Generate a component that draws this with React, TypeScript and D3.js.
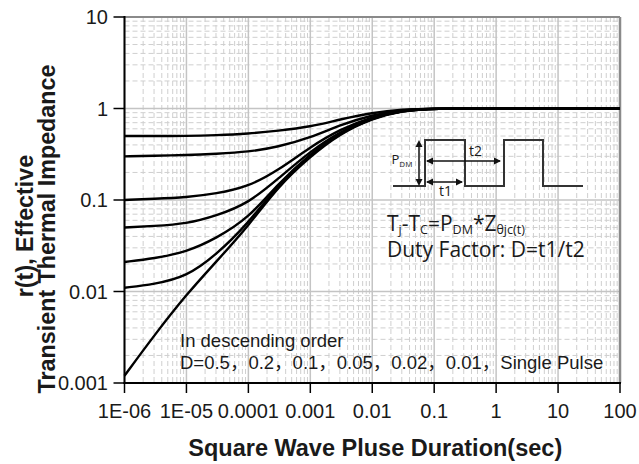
import React from "react";
import * as d3 from "d3";

const xValues = [1e-6, 3e-6, 1e-5, 3e-5, 1e-4, 3e-4, 1e-3, 3e-3, 1e-2, 3e-2, 0.1, 1, 10, 100];
const seriesD05 = [0.5, 0.5, 0.5, 0.51, 0.53, 0.57, 0.63, 0.76, 0.9, 0.98, 1, 1, 1, 1];
const seriesD02 = [0.3, 0.305, 0.31, 0.32, 0.335, 0.38, 0.48, 0.66, 0.85, 0.97, 1, 1, 1, 1];
const seriesD01 = [0.1, 0.103, 0.107, 0.117, 0.14, 0.21, 0.38, 0.59, 0.82, 0.96, 1, 1, 1, 1];
const seriesD005 = [0.05, 0.052, 0.055, 0.067, 0.092, 0.17, 0.34, 0.56, 0.8, 0.95, 1, 1, 1, 1];
const seriesD002 = [0.021, 0.023, 0.027, 0.038, 0.063, 0.15, 0.32, 0.55, 0.79, 0.95, 1, 1, 1, 1];
const seriesD001 = [0.011, 0.012, 0.0145, 0.025, 0.056, 0.145, 0.31, 0.54, 0.79, 0.95, 1, 1, 1, 1];
const seriesSingle = [0.0012, 0.0033, 0.0093, 0.021, 0.052, 0.14, 0.3, 0.53, 0.78, 0.95, 1, 1, 1, 1];
const allSeries = [seriesD05, seriesD02, seriesD01, seriesD005, seriesD002, seriesD001, seriesSingle];

const xTickValues = [1e-6, 1e-5, 1e-4, 1e-3, 1e-2, 0.1, 1, 10, 100];
const xTickLabels = ["1E-06", "1E-05", "0.0001", "0.001", "0.01", "0.1", "1", "10", "100"];
const yTickValues = [0.001, 0.01, 0.1, 1, 10];
const yTickLabels = ["0.001", "0.01", "0.1", "1", "10"];

const xTitle = "Square Wave Pluse Duration(sec)";
const yTitle1 = "r(t), Effective";
const yTitle2 = "Transient Thermal Impedance";
const legendLine1 = "In descending order";
const legendLine2 = "D=0.5\uFF0C0.2\uFF0C0.1\uFF0C0.05\uFF0C0.02\uFF0C0.01\uFF0CSingle Pulse";

const W = 639, H = 464;
const L = 124.5, R = 620, T = 17, B = 383;

export default function App() {
  const x = d3.scaleLog().domain([1e-6, 100]).range([L, R]);
  const y = d3.scaleLog().domain([0.001, 10]).range([B, T]);

  const minorX: number[] = [];
  for (let e = -6; e < 2; e++) for (let m = 2; m <= 9; m++) minorX.push(m * Math.pow(10, e));
  const minorY: number[] = [];
  for (let e = -3; e < 1; e++) for (let m = 2; m <= 9; m++) minorY.push(m * Math.pow(10, e));

  const line = d3
    .line<[number, number]>()
    .x((d) => x(d[0]))
    .y((d) => y(d[1]))
    .curve(d3.curveBasis);

  const font = "'Liberation Sans', Arial, 'Noto Sans CJK SC', sans-serif";
  const insetFont = "'Open Sans', 'Noto Sans', sans-serif";
  const txt = "#1a1a1a";

  // inset geometry
  const ix0 = 393, ixR1 = 425, ixF1 = 465, ixR2 = 504, ixF2 = 543, ixEnd = 583;
  const iyLow = 186, iyHigh = 140;
  const wave = `M${ix0},${iyLow}H${ixR1}V${iyHigh}H${ixF1}V${iyLow}H${ixR2}V${iyHigh}H${ixF2}V${iyLow}H${ixEnd}`;

  const arrowHead = (px: number, py: number, dir: "l" | "r" | "u" | "d") => {
    const s = 7, w = 3.5;
    let p = "";
    if (dir === "l") p = `M${px},${py}L${px + s},${py - w}L${px + s},${py + w}Z`;
    if (dir === "r") p = `M${px},${py}L${px - s},${py - w}L${px - s},${py + w}Z`;
    if (dir === "u") p = `M${px},${py}L${px - w},${py + s}L${px + w},${py + s}Z`;
    if (dir === "d") p = `M${px},${py}L${px - w},${py - s}L${px + w},${py - s}Z`;
    return <path d={p} fill="#111" />;
  };

  return (
    <svg width={W} height={H} style={{ position: "absolute", left: 0, top: 0, background: "#fff" }}>
      <rect x={0} y={0} width={W} height={H} fill="#fff" />
      {/* minor grid */}
      <g stroke="#cfcfcf" strokeWidth={1} strokeDasharray="5,3">
        {minorX.map((v, i) => (
          <line key={"mx" + i} x1={x(v)} x2={x(v)} y1={T} y2={B} />
        ))}
        {minorY.map((v, i) => (
          <line key={"my" + i} x1={L} x2={R} y1={y(v)} y2={y(v)} />
        ))}
      </g>
      {/* major grid */}
      <g stroke="#c4c4c4" strokeWidth={1.5}>
        {xTickValues.map((v, i) => (
          <line key={"gx" + i} x1={x(v)} x2={x(v)} y1={T} y2={B} />
        ))}
        {yTickValues.map((v, i) => (
          <line key={"gy" + i} x1={L} x2={R} y1={y(v)} y2={y(v)} />
        ))}
      </g>
      {/* top/right frame */}
      <line x1={L} x2={R} y1={T} y2={T} stroke="#8a8a8a" strokeWidth={2} />
      <line x1={R} x2={R} y1={T} y2={B} stroke="#8a8a8a" strokeWidth={2.5} />

      {/* curves */}
      <g fill="none" stroke="#000" strokeWidth={2.4}>
        {allSeries.map((s, i) => (
          <path key={"s" + i} d={line(xValues.map((v, j) => [v, s[j]] as [number, number])) || ""} />
        ))}
      </g>

      {/* axes */}
      <line x1={L} x2={L} y1={T - 1} y2={B + 1} stroke="#000" strokeWidth={2} />
      <line x1={L - 1} x2={R + 1} y1={B} y2={B} stroke="#000" strokeWidth={2} />
      {xTickValues.map((v, i) => (
        <g key={"xt" + i}>
          <line x1={x(v)} x2={x(v)} y1={B} y2={B + 10} stroke="#000" strokeWidth={1.5} />
          <text x={x(v)} y={418} textAnchor="middle" fontFamily={font} fontSize={20} fill={txt}>
            {xTickLabels[i]}
          </text>
        </g>
      ))}
      {yTickValues.map((v, i) => (
        <g key={"yt" + i}>
          <line x1={L - 11} x2={L} y1={y(v)} y2={y(v)} stroke="#000" strokeWidth={1.5} />
          <text x={108} y={y(v) + 7} textAnchor="end" fontFamily={font} fontSize={20} fill={txt}>
            {yTickLabels[i]}
          </text>
        </g>
      ))}

      {/* titles */}
      <text x={(L + R) / 2 + 3} y={456} textAnchor="middle" fontFamily={font} fontWeight="bold" fontSize={23.5} fill={txt}>
        {xTitle}
      </text>
      <text transform="translate(33,226) rotate(-90)" textAnchor="middle" fontFamily={font} fontWeight="bold" fontSize={23.3} fill={txt}>
        {yTitle1}
      </text>
      <text transform="translate(55,229) rotate(-90)" textAnchor="middle" fontFamily={font} fontWeight="bold" fontSize={23.3} fill={txt}>
        {yTitle2}
      </text>

      {/* legend text */}
      <text x={180} y={346.5} fontFamily={font} fontSize={18.5} fill={txt}>
        {legendLine1}
      </text>
      <text x={180} y={369} fontFamily={font} fontSize={18.5} fill={txt}>
        {legendLine2}
      </text>

      {/* inset */}
      <path d={wave} fill="none" stroke="#333" strokeWidth={2} />
      <line x1={419} x2={419} y1={iyHigh + 2} y2={iyLow - 2} stroke="#111" strokeWidth={1.5} />
      {arrowHead(419, iyHigh, "u")}
      {arrowHead(419, iyLow, "d")}
      <line x1={427} x2={500} y1={161} y2={161} stroke="#111" strokeWidth={1.5} />
      {arrowHead(426, 161, "l")}
      {arrowHead(501, 161, "r")}
      <line x1={427} x2={462} y1={182} y2={182} stroke="#111" strokeWidth={1.5} />
      {arrowHead(426, 182, "l")}
      {arrowHead(463, 182, "r")}
      <text x={391.5} y={163.5} fontFamily={insetFont} fontSize={13} fill={txt}>
        P<tspan fontSize={8} dy={3}>DM</tspan>
      </text>
      <text x={469} y={156} fontFamily={insetFont} fontSize={14} fill={txt}>t2</text>
      <text x={439} y={196} fontFamily={insetFont} fontSize={14} fill={txt}>t1</text>

      <text x={387} y={231} fontFamily={insetFont} fontSize={21} fill={txt}>
        T<tspan fontSize={12.5} dy={3}>j</tspan>
        <tspan dy={-3}>-T</tspan>
        <tspan fontSize={12.5} dy={3}>C</tspan>
        <tspan dy={-3}>=P</tspan>
        <tspan fontSize={12.5} dy={3}>DM</tspan>
        <tspan dy={-3}>*Z</tspan>
        <tspan fontSize={12.5} dy={3}>θjc(t)</tspan>
      </text>
      <text x={387} y={257} fontFamily={insetFont} fontSize={21} fill={txt}>
        Duty Factor: D=t1/t2
      </text>
    </svg>
  );
}
